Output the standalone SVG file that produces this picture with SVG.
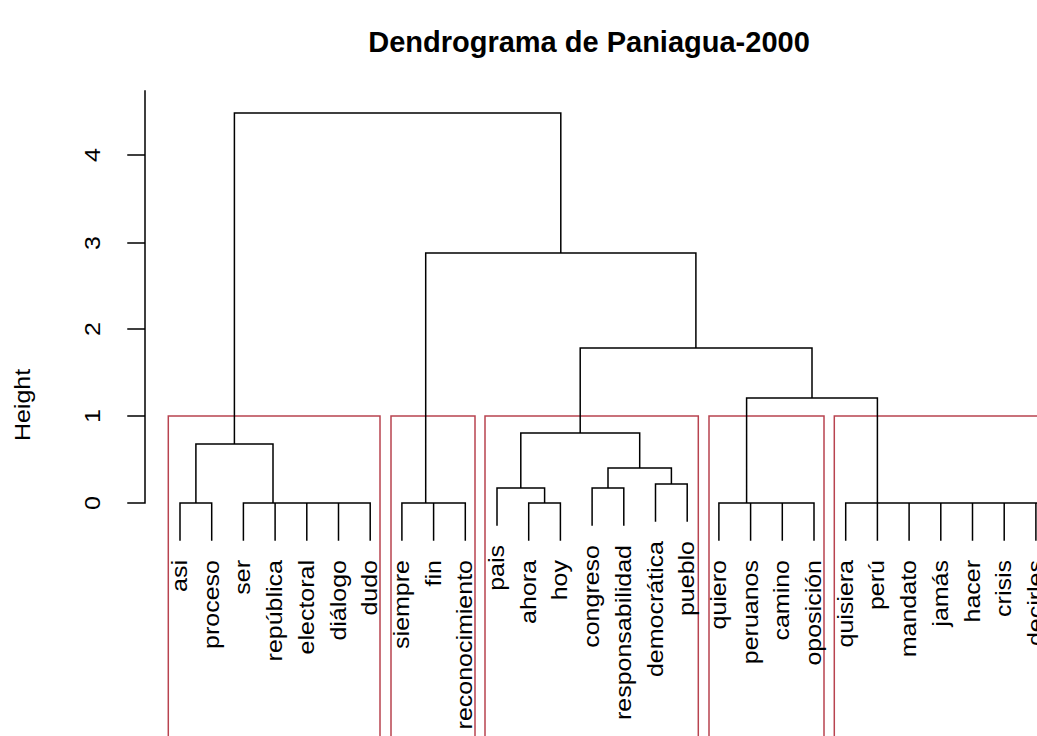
<svg xmlns="http://www.w3.org/2000/svg" width="1037" height="736" viewBox="0 0 1037 736">
<style>
.t{font-family:"Liberation Sans",Arial,sans-serif;font-size:25px;fill:#000;text-anchor:middle}
.lb{font-family:"Liberation Sans",Arial,sans-serif;font-size:25px;fill:#000;text-anchor:end}
.title{font-family:"Liberation Sans",Arial,sans-serif;font-size:29px;font-weight:bold;text-anchor:middle;fill:#000}
.ln{stroke:#000;stroke-width:1.5;fill:none;stroke-linecap:square}
.box{stroke:#b8434f;stroke-width:1.5;fill:none}
</style>
<rect width="1037" height="736" fill="#fff"/>
<text class="title" x="589" y="52">Dendrograma de Paniagua-2000</text>
<g id="axis">
<path class="ln" d="M145 91V503M128 503H145M128 416H145M128 329H145M128 243H145M128 155H145"/>
<text class="t" transform="translate(100,503) rotate(-90) scale(1,0.85)">0</text>
<text class="t" transform="translate(100,416) rotate(-90) scale(1,0.85)">1</text>
<text class="t" transform="translate(100,329) rotate(-90) scale(1,0.85)">2</text>
<text class="t" transform="translate(100,243) rotate(-90) scale(1,0.85)">3</text>
<text class="t" transform="translate(100,155) rotate(-90) scale(1,0.85)">4</text>
<text class="t" transform="translate(30,405) rotate(-90) scale(1,0.85)">Height</text>
</g>
<g id="clusters">
<rect id="box1" class="box" x="168.3" y="416" width="211.7" height="330"/>
<rect id="box2" class="box" x="391" y="416" width="84" height="330"/>
<rect id="box3" class="box" x="485" y="416" width="213.3" height="330"/>
<rect id="box4" class="box" x="709" y="416" width="115" height="330"/>
<rect id="box5" class="box" x="834.3" y="416" width="220" height="330"/>
</g>
<g id="connectors">
<path class="ln" d="M180 540V503M211.7 540V503M180 503H211.7
M243.4 540V503M275.1 540V503M306.8 540V503M338.5 540V503M370.2 540V503M243.4 503H370.2
M195.9 503V444M273 503V444M195.9 444H273M234.4 444V113
M401.9 540V503M433.6 540V503M465.3 540V503M401.9 503H465.3M425.7 503V253
M528.7 540V503M560.4 540V503M528.7 503H560.4
M497 525V488M544.6 503V488M497 488H544.6
M592.1 525V488M623.8 525V488M592.1 488H623.8
M655.5 521V484M687.2 521V484M655.5 484H687.2
M608 488V468M671.4 484V468M608 468H671.4
M520.8 488V433M639.7 468V433M520.8 433H639.7M580.2 433V348
M718.9 540V503M750.6 540V503M782.3 540V503M814 540V503M718.9 503H814M746.6 503V398
M845.7 540V503M877.4 540V503M909.1 540V503M940.8 540V503M972.5 540V503M1004.2 540V503M1035.9 540V503M845.7 503H1040M877.4 503V398
M746.6 398H877.4M812 398V348
M580.2 348H812M695.9 348V253
M425.7 253H695.9M560.8 253V113
M234.4 113H560.8"/>
</g>
<g id="leaves">
<text class="lb" transform="translate(187,560) rotate(-90) scale(1,0.85)">asi</text>
<text class="lb" transform="translate(218.7,560) rotate(-90) scale(1,0.85)">proceso</text>
<text class="lb" transform="translate(250.4,560) rotate(-90) scale(1,0.85)">ser</text>
<text class="lb" transform="translate(282.1,560) rotate(-90) scale(1,0.85)">república</text>
<text class="lb" transform="translate(313.8,560) rotate(-90) scale(1,0.85)">electoral</text>
<text class="lb" transform="translate(345.5,560) rotate(-90) scale(1,0.85)">diálogo</text>
<text class="lb" transform="translate(377.2,560) rotate(-90) scale(1,0.85)">dudo</text>
<text class="lb" transform="translate(408.9,560) rotate(-90) scale(1,0.85)">siempre</text>
<text class="lb" transform="translate(440.6,560) rotate(-90) scale(1,0.85)">fin</text>
<text class="lb" transform="translate(472.3,560) rotate(-90) scale(1,0.85)">reconocimiento</text>
<text class="lb" transform="translate(504,545) rotate(-90) scale(1,0.85)">pais</text>
<text class="lb" transform="translate(535.7,560) rotate(-90) scale(1,0.85)">ahora</text>
<text class="lb" transform="translate(567.4,560) rotate(-90) scale(1,0.85)">hoy</text>
<text class="lb" transform="translate(599.1,545) rotate(-90) scale(1,0.85)">congreso</text>
<text class="lb" transform="translate(630.8,545) rotate(-90) scale(1,0.85)">responsabilidad</text>
<text class="lb" transform="translate(662.5,541) rotate(-90) scale(1,0.85)">democrática</text>
<text class="lb" transform="translate(694.2,541) rotate(-90) scale(1,0.85)">pueblo</text>
<text class="lb" transform="translate(725.9,560) rotate(-90) scale(1,0.85)">quiero</text>
<text class="lb" transform="translate(757.6,560) rotate(-90) scale(1,0.85)">peruanos</text>
<text class="lb" transform="translate(789.3,560) rotate(-90) scale(1,0.85)">camino</text>
<text class="lb" transform="translate(821,560) rotate(-90) scale(1,0.85)">oposición</text>
<text class="lb" transform="translate(852.7,560) rotate(-90) scale(1,0.85)">quisiera</text>
<text class="lb" transform="translate(884.4,560) rotate(-90) scale(1,0.85)">perú</text>
<text class="lb" transform="translate(916.1,560) rotate(-90) scale(1,0.85)">mandato</text>
<text class="lb" transform="translate(947.8,560) rotate(-90) scale(1,0.85)">jamás</text>
<text class="lb" transform="translate(979.5,560) rotate(-90) scale(1,0.85)">hacer</text>
<text class="lb" transform="translate(1011.2,560) rotate(-90) scale(1,0.85)">crisis</text>
<text class="lb" transform="translate(1042.9,560) rotate(-90) scale(1,0.85)">decirles</text>
</g>
</svg>
